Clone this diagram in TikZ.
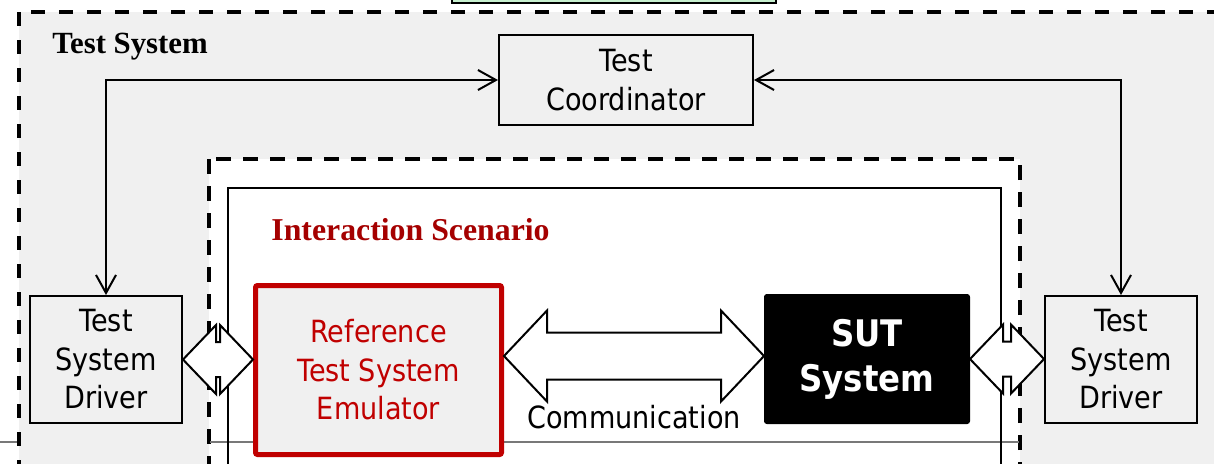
\documentclass[tikz,border=0pt]{standalone}
\usepackage{fontspec}
\setmainfont{Liberation Serif}
\newfontfamily\tahoma[FakeStretch=0.885]{DejaVu Sans}
\usetikzlibrary{arrows.meta,calc}

\definecolor{bggray}{RGB}{240,240,240}
\definecolor{refred}{RGB}{192,0,0}
\definecolor{titlered}{RGB}{165,0,0}
\definecolor{linegray}{RGB}{120,120,120}
\definecolor{topgreen}{RGB}{198,239,206}

% двойная блочная стрелка: #1, #2 -- концы, #3 -- длина головки,
% #4 -- полуширина ствола, #5 -- полуширина головки
\newcommand{\dblarrow}[5]{%
  \draw[blockarrow] let \p1=(#1), \p2=(#2) in
    (\x1,\y1) -- (\x1+#3,\y1+#5) -- (\x1+#3,\y1+#4) -- (\x2-#3,\y1+#4)
    -- (\x2-#3,\y1+#5) -- (\x2,\y1) -- (\x2-#3,\y1-#5) -- (\x2-#3,\y1-#4)
    -- (\x1+#3,\y1-#4) -- (\x1+#3,\y1-#5) -- cycle;}

\begin{document}
\begin{tikzpicture}[
    x=0.5pt,
    y=-0.5pt,
    line join=miter,
    frame/.style={line width=2pt,dash pattern=on 7pt off 7pt},
    inframe/.style={line width=1.75pt,dash pattern=on 7.5pt off 6pt},
    box/.style={draw,line width=1pt,fill=bggray,align=center,inner sep=0pt,
                font=\tahoma\fontsize{15.3}{19.25}\selectfont},
    link/.style={line width=1pt,
                 {Straight Barb[length=9pt,width=10pt]}-{Straight Barb[length=9pt,width=10pt]}},
    blockarrow/.style={draw,line width=1pt,fill=white}
]

\useasboundingbox (0,0) rectangle (1214,463);
\clip (0,0) rectangle (1214,463);

% -------------------------------------------------
% Рамки
% -------------------------------------------------

\draw[line width=1pt,fill=topgreen] (452,-30) rectangle (776,3);

\draw[frame,fill=bggray] (19,12) rectangle (1260,520);
\draw[linegray,line width=1pt] (0,442) -- (17,442);

\draw[inframe,fill=white] (209,159) rectangle (1020,520);
\draw[linegray,line width=1pt] (210,442) -- (1019,442);
\draw[line width=1pt] (228,188) rectangle (1001,520);

\node[anchor=base west,inner sep=0pt,font=\bfseries\fontsize{15.4}{18}\selectfont]
    (tsys) at (52,53) {Test System};
\node[anchor=base west,inner sep=0pt,text=titlered,font=\bfseries\fontsize{15.9}{18}\selectfont]
    (scen) at (271,240) {Interaction Scenario};

% -------------------------------------------------
% Блоки
% -------------------------------------------------

\node[box,minimum width=127pt,minimum height=45pt] (coord) at (626,80)
    {Test\\Coordinator};

\node[box,minimum width=76pt,minimum height=63.5pt] (drvL) at (106,359.5)
    {Test\\System\\Driver};
\node[box,minimum width=76pt,minimum height=63.5pt] (drvR) at (1121,359.5)
    {Test\\System\\Driver};

\node[box,draw=refred,line width=2.5pt,rounded corners=1pt,text=refred,
      minimum width=123pt,minimum height=84.5pt] (ref) at (378.5,370)
    {Reference\\Test System\\Emulator};

\node[box,fill=black,text=white,rounded corners=1pt,
      font=\tahoma\bfseries\fontsize{18.3}{22.5}\selectfont,
      minimum width=102pt,minimum height=64pt] (sut) at (867,359)
    {SUT\\System};

% -------------------------------------------------
% Связи
% -------------------------------------------------

\draw[link] (coord.west) -| (drvL.north);
\draw[link] (coord.east) -| (drvR.north);

\coordinate (commL) at (ref.east |- 0,356);
\coordinate (commR) at (sut.west |- 0,356);

\dblarrow{drvL.east}{drvL.east -| ref.west}{16.5pt}{8.75pt}{17.25pt}
\dblarrow{commL}{commR}{21.5pt}{11.75pt}{22.75pt}
\dblarrow{sut.east}{sut.east -| drvR.west}{16.5pt}{8.75pt}{17.25pt}

\node[anchor=base,font=\tahoma\fontsize{15.3}{19.25}\selectfont]
    (comm) at (634,428) {Communication};

\end{tikzpicture}
\end{document}
